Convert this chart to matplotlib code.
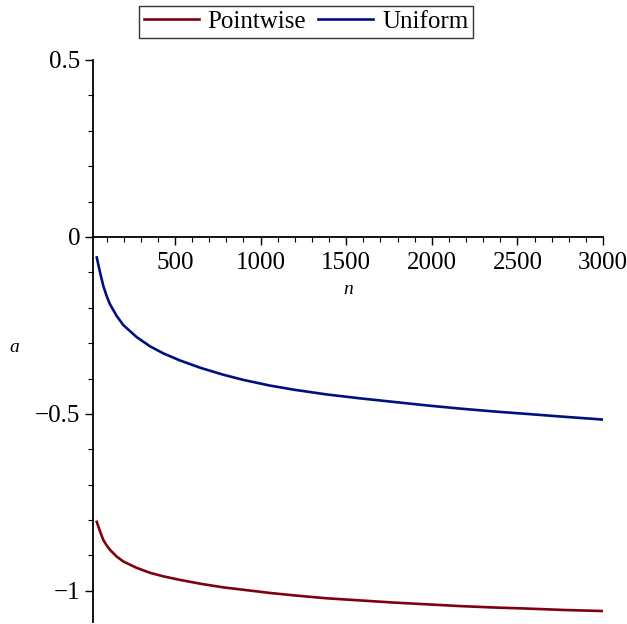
import numpy as np
import matplotlib
matplotlib.use('Agg')
import matplotlib.pyplot as plt
from matplotlib.ticker import MultipleLocator

plt.rcParams['font.family'] = ['Liberation Serif', 'DejaVu Serif']
plt.rcParams['axes.unicode_minus'] = True

n = [43, 62, 81, 100, 120, 159, 198, 276, 354, 432, 529, 650, 780, 900, 1055,
     1200, 1386, 1580, 1775, 1970, 2165, 2360, 2554, 2770, 3000]
pointwise = [-0.805, -0.832, -0.856, -0.871, -0.884, -0.903, -0.917, -0.935, -0.949,
             -0.959, -0.969, -0.980, -0.990, -0.997, -1.006, -1.013, -1.021, -1.027,
             -1.033, -1.038, -1.043, -1.047, -1.050, -1.054, -1.057]
uniform = [-0.058, -0.100, -0.138, -0.166, -0.190, -0.223, -0.249, -0.283, -0.309,
           -0.329, -0.349, -0.370, -0.389, -0.404, -0.420, -0.432, -0.445, -0.456,
           -0.466, -0.476, -0.485, -0.493, -0.500, -0.508, -0.516]

fig = plt.figure(figsize=(6.27, 6.24), dpi=100)
ax = fig.add_axes([93 / 627, 2 / 624, 510 / 627, 562 / 624])

ax.plot(n, pointwise, color='#7f0010', lw=1.9, label='Pointwise',
        solid_joinstyle='round')
ax.plot(n, uniform, color='#00107f', lw=1.9, label='Uniform',
        solid_joinstyle='round')

ax.set_xlim(21, 3000)
ax.set_ylim(-1.088, 0.5)

ax.spines['top'].set_visible(False)
ax.spines['right'].set_visible(False)
ax.spines['bottom'].set_position(('data', 0))
ax.spines['left'].set_linewidth(1.3)
ax.spines['bottom'].set_linewidth(1.3)

ax.set_xticks([500, 1000, 1500, 2000, 2500, 3000])
ax.xaxis.set_minor_locator(MultipleLocator(100))
ax.set_yticks([-1, -0.5, 0, 0.5])
ax.set_yticklabels(['\u22121', '\u22120.5', '0', '0.5'])
ax.yaxis.set_minor_locator(MultipleLocator(0.1))
ax.tick_params(which='major', length=6, width=1, labelsize=18, direction='out')
ax.tick_params(which='minor', length=3.5, width=0.8, direction='out')
ax.tick_params(axis='x', pad=5)
ax.tick_params(axis='y', pad=3)

ax.set_xlabel('n', fontsize=14, style='italic', labelpad=5)
ax.set_ylabel('a', fontsize=14, style='italic', rotation=0, va='center', ha='left')
ax.yaxis.set_label_coords(-0.163, 0.488)

fig.legend(loc='upper center', bbox_to_anchor=(0.488, 0.999), ncol=2,
           fontsize=18, frameon=True, fancybox=False, edgecolor='black',
           borderpad=0.2, handlelength=2.2, handletextpad=0.35, columnspacing=0.5,
           borderaxespad=0.2)

plt.savefig('out.png', dpi=100)
